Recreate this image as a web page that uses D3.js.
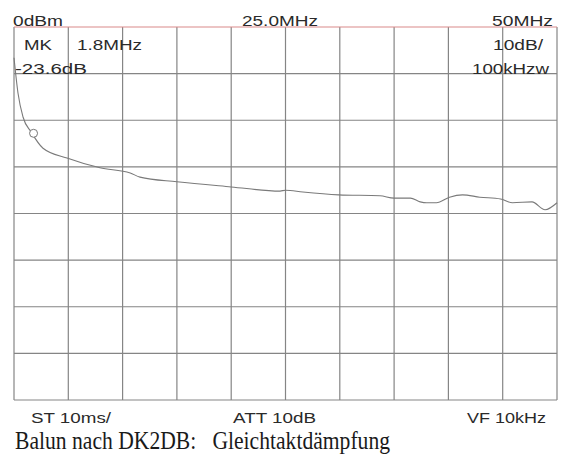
<!DOCTYPE html>
<html>
<head>
<meta charset="utf-8">
<script src="https://cdn.jsdelivr.net/npm/d3@7"></script>
<style>
  body { margin: 0; background: #fff; }
  svg { display: block; }
</style>
</head>
<body>
<div id="chart"></div>
<script>
// trace
const freqMHz = [0, 0.37, 0.83, 1.57, 2.67, 4.88, 7.92, 10.7, 11.6, 15.0, 20.0, 24.5, 25.0, 26.6, 29.9, 33.7, 35.0, 36.5, 37.4, 38.0, 38.9, 40.1, 41.3, 42.9, 44.8, 45.9, 47.7, 48.9, 50];
const levelDb = [-6.6, -14.2, -19.3, -22.5, -26.0, -28.1, -30.2, -31.3, -32.2, -33.2, -34.3, -35.2, -35.0, -35.4, -36.0, -36.2, -36.7, -36.7, -37.5, -37.7, -37.7, -36.5, -36.0, -36.5, -36.9, -37.7, -37.5, -39.2, -37.7];
const markerMHz = [1.8];
const markerDb = [-22.8];

const freqTicks = [0, 5, 10, 15, 20, 25, 30, 35, 40, 45, 50];
const dbTicks = [0, -10, -20, -30, -40, -50, -60, -70, -80];

const topLabels = ["0dBm", "25.0MHz", "50MHz"];
const infoLeft = ["MK", "1.8MHz", "-23.6dB"];
const infoRight = ["10dB/", "100kHzw"];
const bottomLabels = ["ST 10ms/", "ATT 10dB", "VF 10kHz"];
const title = "Balun nach DK2DB:   Gleichtaktdämpfung";

const width = 561, height = 457;
const margin = {top: 27, right: 4, bottom: 57, left: 14};

let svg = d3.select("#chart")
    .append("svg")
    .attr("width", width)
    .attr("height", height);

let x = d3.scaleLinear()
    .domain([0, 50])
    .range([margin.left, width - margin.right]);
let y = d3.scaleLinear()
    .domain([0, -80])
    .range([margin.top, height - margin.bottom]);

// grid
svg.append("g").selectAll("line")
    .data(freqTicks)
    .enter()
    .append("line")
    .attr("x1", d => x(d)).attr("x2", d => x(d))
    .attr("y1", y(0)).attr("y2", y(-80))
    .attr("stroke", "#858585")
    .attr("stroke-width", 1.2);

svg.append("g").selectAll("line")
    .data(dbTicks)
    .enter()
    .append("line")
    .attr("x1", x(0)).attr("x2", x(50))
    .attr("y1", d => y(d)).attr("y2", d => y(d))
    .attr("stroke", d => d === 0 ? "#d98a8a" : "#858585")
    .attr("stroke-width", 1.2);

// trace
let line = d3.line()
    .x(d => x(d[0]))
    .y(d => y(d[1]))
    .curve(d3.curveMonotoneX);

svg.append("path")
    .datum(freqMHz.map((f, i) => [f, levelDb[i]]))
    .attr("d", line)
    .attr("fill", "none")
    .attr("stroke", "#7a7a7a")
    .attr("stroke-width", 1.1);

svg.selectAll("circle.mk")
    .data(markerMHz)
    .enter()
    .append("circle")
    .attr("class", "mk")
    .attr("cx", d => x(d))
    .attr("cy", (d, i) => y(markerDb[i]))
    .attr("r", 4)
    .attr("fill", "#fff")
    .attr("stroke", "#777")
    .attr("stroke-width", 1);

// screen texts, the photo stretches them a bit wide
const sans = "'Liberation Sans', Arial, sans-serif";
function label(t, px, py, w, anchor) {
    svg.append("text")
        .text(t)
        .attr("x", px).attr("y", py)
        .attr("text-anchor", anchor || "start")
        .attr("textLength", w)
        .attr("lengthAdjust", "spacingAndGlyphs")
        .style("font-family", sans)
        .style("font-size", "14.5px")
        .style("fill", "#2a2a2a");
}

label(topLabels[0], 13, 26, 50);
label(topLabels[1], 280, 26, 76, "middle");
label(topLabels[2], 553, 26, 61, "end");
label(infoLeft[0], 24, 50, 28);
label(infoLeft[1], 77, 50, 65);
label(infoLeft[2], 15, 74, 72);
label(infoRight[0], 543, 50, 50, "end");
label(infoRight[1], 549, 74, 77, "end");
label(bottomLabels[0], 31, 423, 80);
label(bottomLabels[1], 233, 423, 83);
label(bottomLabels[2], 546, 423, 79, "end");

svg.append("text")
    .text(title)
    .attr("x", 15).attr("y", 449)
    .attr("textLength", 375)
    .attr("lengthAdjust", "spacingAndGlyphs")
    .style("font-family", "'Liberation Serif', 'Times New Roman', serif")
    .style("font-size", "25px")
    .style("fill", "#1a1a1a")
    .style("white-space", "pre");
</script>
</body>
</html>
